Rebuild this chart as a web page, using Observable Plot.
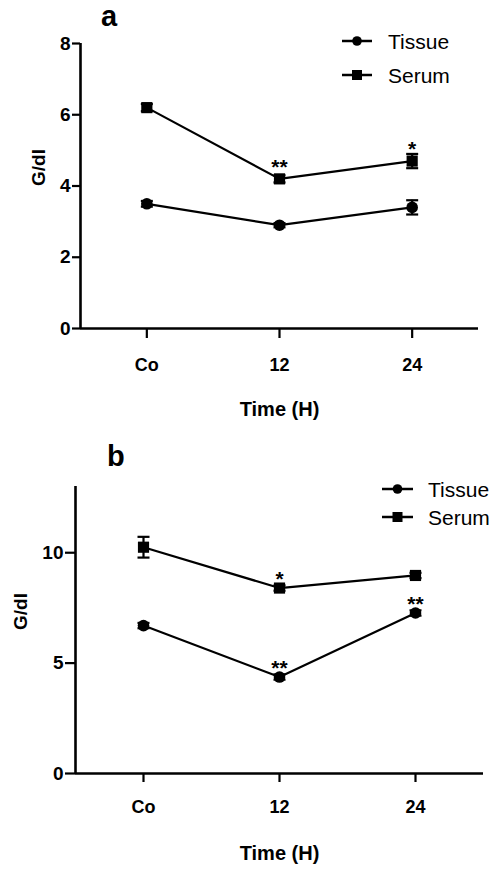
<!DOCTYPE html>
<html><head><meta charset="utf-8">
<script src="https://cdn.jsdelivr.net/npm/d3@7"></script>
<script src="https://cdn.jsdelivr.net/npm/@observablehq/plot@0.6"></script>
<style>
body{margin:0;background:#fff;}
#wrap{position:relative;width:498px;height:871px;overflow:hidden;font-family:"Liberation Sans",Arial,sans-serif;color:#000;}
.panel{position:absolute;left:0;}
.letter{position:absolute;font-weight:bold;font-size:29px;line-height:normal;}
.leg{position:absolute;font-size:21px;line-height:21px;white-space:nowrap;}
.legsym{position:absolute;}
</style></head><body><div id="wrap"></div>
<script>
const categories = ["Co", "12", "24"];
const seriesNames = ["Tissue", "Serum"];
const xTitle = "Time (H)";
const yTitle = "G/dl";

// Panel a
const aTissue = [3.5, 2.9, 3.4];
const aTissueErr = [0.08, 0.06, 0.2];
const aSerum = [6.2, 4.2, 4.7];
const aSerumErr = [0.1, 0.1, 0.2];
const aTissueSig = ["", "", ""];
const aSerumSig = ["", "**", "*"];
const aYDomain = [0, 8];
const aYTicks = [0, 2, 4, 6, 8];

// Panel b
const bTissue = [6.7, 4.37, 7.27];
const bTissueErr = [0.12, 0.12, 0.12];
const bSerum = [10.25, 8.4, 8.97];
const bSerumErr = [0.47, 0.12, 0.12];
const bTissueSig = ["", "**", "**"];
const bSerumSig = ["", "*", ""];
const bYDomain = [0, 13];
const bYTicks = [0, 5, 10];

const FONT = '"Liberation Sans", Arial, sans-serif';
const cap = {draw(ctx, size) { const w = Math.sqrt(size / Math.PI); ctx.moveTo(-w, 0); ctx.lineTo(w, 0); }};

function makeRows(tissue, tissueErr, tissueSig, serum, serumErr, serumSig) {
  const rows = [];
  categories.forEach((c, i) => {
    rows.push({series: seriesNames[0], i, v: tissue[i], e: tissueErr[i], sig: tissueSig[i]});
    rows.push({series: seriesNames[1], i, v: serum[i], e: serumErr[i], sig: serumSig[i]});
  });
  return rows;
}

function panel(o) {
  const rows = o.rows;
  const xDomain = [-0.5, categories.length - 0.5];
  return Plot.plot({
    width: 498, height: o.height,
    marginTop: o.marginTop, marginBottom: o.marginBottom,
    marginLeft: o.marginLeft, marginRight: o.marginRight,
    style: {fontFamily: FONT, fontWeight: "bold", color: "#000", background: "transparent", overflow: "visible"},
    x: {domain: xDomain},
    y: {domain: o.yDomain},
    marks: [
      Plot.line(rows, {x: "i", y: "v", z: "series", stroke: "#000", strokeWidth: 2.2}),
      Plot.ruleX(rows, {x: "i", y1: d => d.v - d.e, y2: d => d.v + d.e, stroke: "#000", strokeWidth: 2.2}),
      Plot.dot(rows, {x: "i", y: d => d.v + d.e, symbol: cap, r: 6, stroke: "#000", strokeWidth: 2.2}),
      Plot.dot(rows, {x: "i", y: d => d.v - d.e, symbol: cap, r: 6, stroke: "#000", strokeWidth: 2.2}),
      Plot.dot(rows.filter(d => d.series === seriesNames[0]), {x: "i", y: "v", symbol: "circle", r: 5.8, fill: "#000", stroke: null}),
      Plot.dot(rows.filter(d => d.series === seriesNames[1]), {x: "i", y: "v", symbol: "square", r: 6.3, fill: "#000", stroke: null}),
      Plot.text(rows.filter(d => d.sig), {x: "i", y: "v", text: "sig", dy: o.sigDy, fontSize: 21, fontWeight: "bold"}),
      Plot.axisY({ticks: o.yTicks, tickSize: o.yTickSize, tickPadding: 2, fontSize: 19, fontWeight: "bold", strokeWidth: 2.2, label: null}),
      Plot.axisX({ticks: categories.map((c, i) => i), tickFormat: i => categories[i], tickSize: o.xTickSize, tickPadding: o.xTickPadding, fontSize: 18, fontWeight: "bold", strokeWidth: 2.2, label: null}),
      Plot.ruleX([xDomain[0]], {y1: o.yDomain[0], y2: o.yDomain[1], stroke: "#000", strokeWidth: 2.6}),
      Plot.ruleY([o.yDomain[0]], {x1: xDomain[0], x2: xDomain[1], stroke: "#000", strokeWidth: 2.6}),
      Plot.text([yTitle], {text: d => d, frameAnchor: "left", rotate: -90, dx: o.yLabelDx, fontSize: 19, fontWeight: "bold"}),
      Plot.text([xTitle], {text: d => d, frameAnchor: "bottom", dy: o.xLabelDy, fontSize: 20, fontWeight: "bold"})
    ]
  });
}

const wrap = document.getElementById("wrap");

function addPanel(svg, top) {
  svg.classList.add("panel");
  svg.style.top = top + "px";
  svg.style.position = "absolute";
  wrap.appendChild(svg);
}

addPanel(panel({
  rows: makeRows(aTissue, aTissueErr, aTissueSig, aSerum, aSerumErr, aSerumSig),
  height: 430, marginTop: 43, marginBottom: 102, marginLeft: 80, marginRight: 20,
  yDomain: aYDomain, yTicks: aYTicks, yTickSize: 8, xTickSize: 10, xTickPadding: 20,
  yLabelDx: -42, xLabelDy: 87, sigDy: -12
}), 0);

addPanel(panel({
  rows: makeRows(bTissue, bTissueErr, bTissueSig, bSerum, bSerumErr, bSerumSig),
  height: 441, marginTop: 56, marginBottom: 98, marginLeft: 75, marginRight: 15,
  yDomain: bYDomain, yTicks: bYTicks, yTickSize: 10, xTickSize: 9, xTickPadding: 18,
  yLabelDx: -55, xLabelDy: 86, sigDy: -9
}), 430);

function letter(txt, left, top) {
  const d = document.createElement("div");
  d.className = "letter"; d.textContent = txt;
  d.style.left = left + "px"; d.style.top = top + "px";
  wrap.appendChild(d);
}
letter("a", 101, 0);
letter("b", 107, 440);

function legendRow(name, isSquare, lineX0, lineX1, cy, textX) {
  const ns = "http://www.w3.org/2000/svg";
  const s = document.createElementNS(ns, "svg");
  s.setAttribute("class", "legsym");
  s.setAttribute("width", lineX1 - lineX0 + 2);
  s.setAttribute("height", 16);
  s.style.left = (lineX0 - 1) + "px"; s.style.top = (cy - 8) + "px";
  const l = document.createElementNS(ns, "line");
  l.setAttribute("x1", 1); l.setAttribute("x2", lineX1 - lineX0 + 1);
  l.setAttribute("y1", 8); l.setAttribute("y2", 8);
  l.setAttribute("stroke", "#000"); l.setAttribute("stroke-width", 2.5);
  s.appendChild(l);
  const mid = (lineX1 - lineX0) / 2 + 1;
  if (isSquare) {
    const r = document.createElementNS(ns, "rect");
    r.setAttribute("x", mid - 5); r.setAttribute("y", 3); r.setAttribute("width", 10); r.setAttribute("height", 10);
    s.appendChild(r);
  } else {
    const c = document.createElementNS(ns, "circle");
    c.setAttribute("cx", mid); c.setAttribute("cy", 8); c.setAttribute("r", 4.8);
    s.appendChild(c);
  }
  wrap.appendChild(s);
  const t = document.createElement("div");
  t.className = "leg"; t.textContent = name;
  t.style.left = textX + "px"; t.style.top = (cy - 10) + "px";
  wrap.appendChild(t);
}
legendRow(seriesNames[0], false, 342, 372, 41, 388);
legendRow(seriesNames[1], true, 342, 372, 75, 388);
legendRow(seriesNames[0], false, 382, 413, 489, 428);
legendRow(seriesNames[1], true, 382, 413, 517, 428);
</script></body></html>
